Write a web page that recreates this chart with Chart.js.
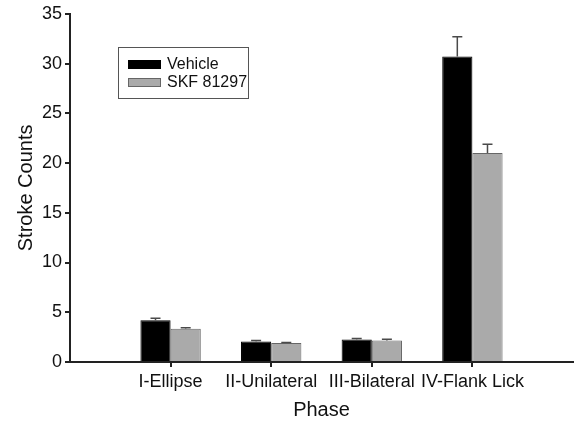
<!DOCTYPE html>
<html>
<head>
<meta charset="utf-8">
<script src="https://cdn.jsdelivr.net/npm/chart.js@4/dist/chart.umd.min.js"></script>
<style>
  html, body { margin: 0; padding: 0; background: #fff; }
  #wrap { width: 577px; height: 422px; position: relative; }
</style>
</head>
<body>
<div id="wrap"><canvas id="strokeChart"></canvas></div>
<script>
// blank slots at both ends so the phases sit at 1/5 .. 4/5 of the axis
const phases = ["", "I-Ellipse", "II-Unilateral", "III-Bilateral", "IV-Flank Lick", ""];
const vehicle = [null, 4.2, 2.05, 2.25, 30.7, null];
const vehicleErr = [null, 0.2, 0.1, 0.1, 2.0, null];
const skf = [null, 3.35, 1.9, 2.15, 21.0, null];
const skfErr = [null, 0.1, 0.07, 0.13, 0.9, null];
const yTicks = [0, 5, 10, 15, 20, 25, 30, 35];

const FONT = "'Liberation Sans', Arial, Helvetica, sans-serif";
const errs = [vehicleErr, skfErr];

const errorBars = {
  id: "errorBars",
  afterDatasetsDraw(chart) {
    const ctx = chart.ctx;
    const y = chart.scales.y;
    ctx.save();
    ctx.strokeStyle = "#4a4a4a";
    ctx.lineWidth = 1.5;
    chart.data.datasets.forEach((ds, i) => {
      const meta = chart.getDatasetMeta(i);
      meta.data.forEach((bar, j) => {
        const v = ds.data[j];
        const e = errs[i][j];
        if (v == null || e == null) return;
        const top = y.getPixelForValue(v + e);
        ctx.beginPath();
        ctx.moveTo(bar.x, bar.y);
        ctx.lineTo(bar.x, top);
        ctx.moveTo(bar.x - 5, top);
        ctx.lineTo(bar.x + 5, top);
        ctx.stroke();
      });
    });
    ctx.restore();
  }
};

const boxLegend = {
  id: "boxLegend",
  afterDraw(chart) {
    const ctx = chart.ctx;
    ctx.save();
    ctx.strokeStyle = "#555";
    ctx.lineWidth = 1;
    ctx.strokeRect(118.5, 47.5, 130, 51);
    ctx.font = "16px " + FONT;
    ctx.textBaseline = "middle";
    chart.data.datasets.forEach((ds, i) => {
      const yy = 60 + i * 18;
      ctx.fillStyle = ds.backgroundColor;
      ctx.fillRect(128, yy, 33, 9);
      ctx.strokeStyle = ds.borderColor;
      ctx.strokeRect(128.5, yy + 0.5, 32, 8);
      ctx.fillStyle = "#111";
      ctx.fillText(ds.label, 167, yy + 5);
    });
    ctx.restore();
  }
};

new Chart(document.getElementById("strokeChart"), {
  type: "bar",
  data: {
    labels: phases,
    datasets: [
      {
        label: "Vehicle",
        data: vehicle,
        backgroundColor: "#000000",
        borderColor: "#000000",
        borderWidth: 1,
        categoryPercentage: 0.6,
        barPercentage: 1.0
      },
      {
        label: "SKF 81297",
        data: skf,
        backgroundColor: "#aaaaaa",
        borderColor: "#666666",
        borderWidth: 1,
        categoryPercentage: 0.6,
        barPercentage: 1.0
      }
    ]
  },
  options: {
    responsive: true,
    maintainAspectRatio: false,
    animation: false,
    layout: { padding: { top: 13, right: 3, left: 0, bottom: 0 } },
    plugins: {
      legend: { display: false },
      tooltip: { enabled: false }
    },
    scales: {
      x: {
        offset: false,
        grid: {
          offset: false,
          drawOnChartArea: false,
          tickLength: 5,
          lineWidth: 2,
          color: "#222",
          tickColor: (c) => (phases[c.index] ? "#222" : "rgba(0,0,0,0)")
        },
        border: { display: true, color: "#222", width: 2 },
        ticks: {
          color: "#111",
          font: { family: FONT, size: 18 },
          padding: 4,
          maxRotation: 0,
          autoSkip: false
        },
        title: {
          display: true,
          text: "Phase",
          color: "#111",
          font: { family: FONT, size: 20 },
          padding: { top: 0, bottom: 0 }
        },
        afterFit: (s) => { s.height = 60; }
      },
      y: {
        min: 0,
        max: 35,
        afterBuildTicks: (s) => { s.ticks = yTicks.map((v) => ({ value: v })); },
        grid: { drawOnChartArea: false, tickLength: 5, lineWidth: 2, color: "#222" },
        border: { display: true, color: "#222", width: 2 },
        ticks: {
          color: "#111",
          font: { family: FONT, size: 18 },
          padding: 3
        },
        title: {
          display: true,
          text: "Stroke Counts",
          color: "#111",
          font: { family: FONT, size: 20 },
          padding: { top: 14, bottom: 0 }
        },
        afterFit: (s) => { s.width = 70; }
      }
    }
  },
  plugins: [errorBars, boxLegend]
});
</script>
</body>
</html>
